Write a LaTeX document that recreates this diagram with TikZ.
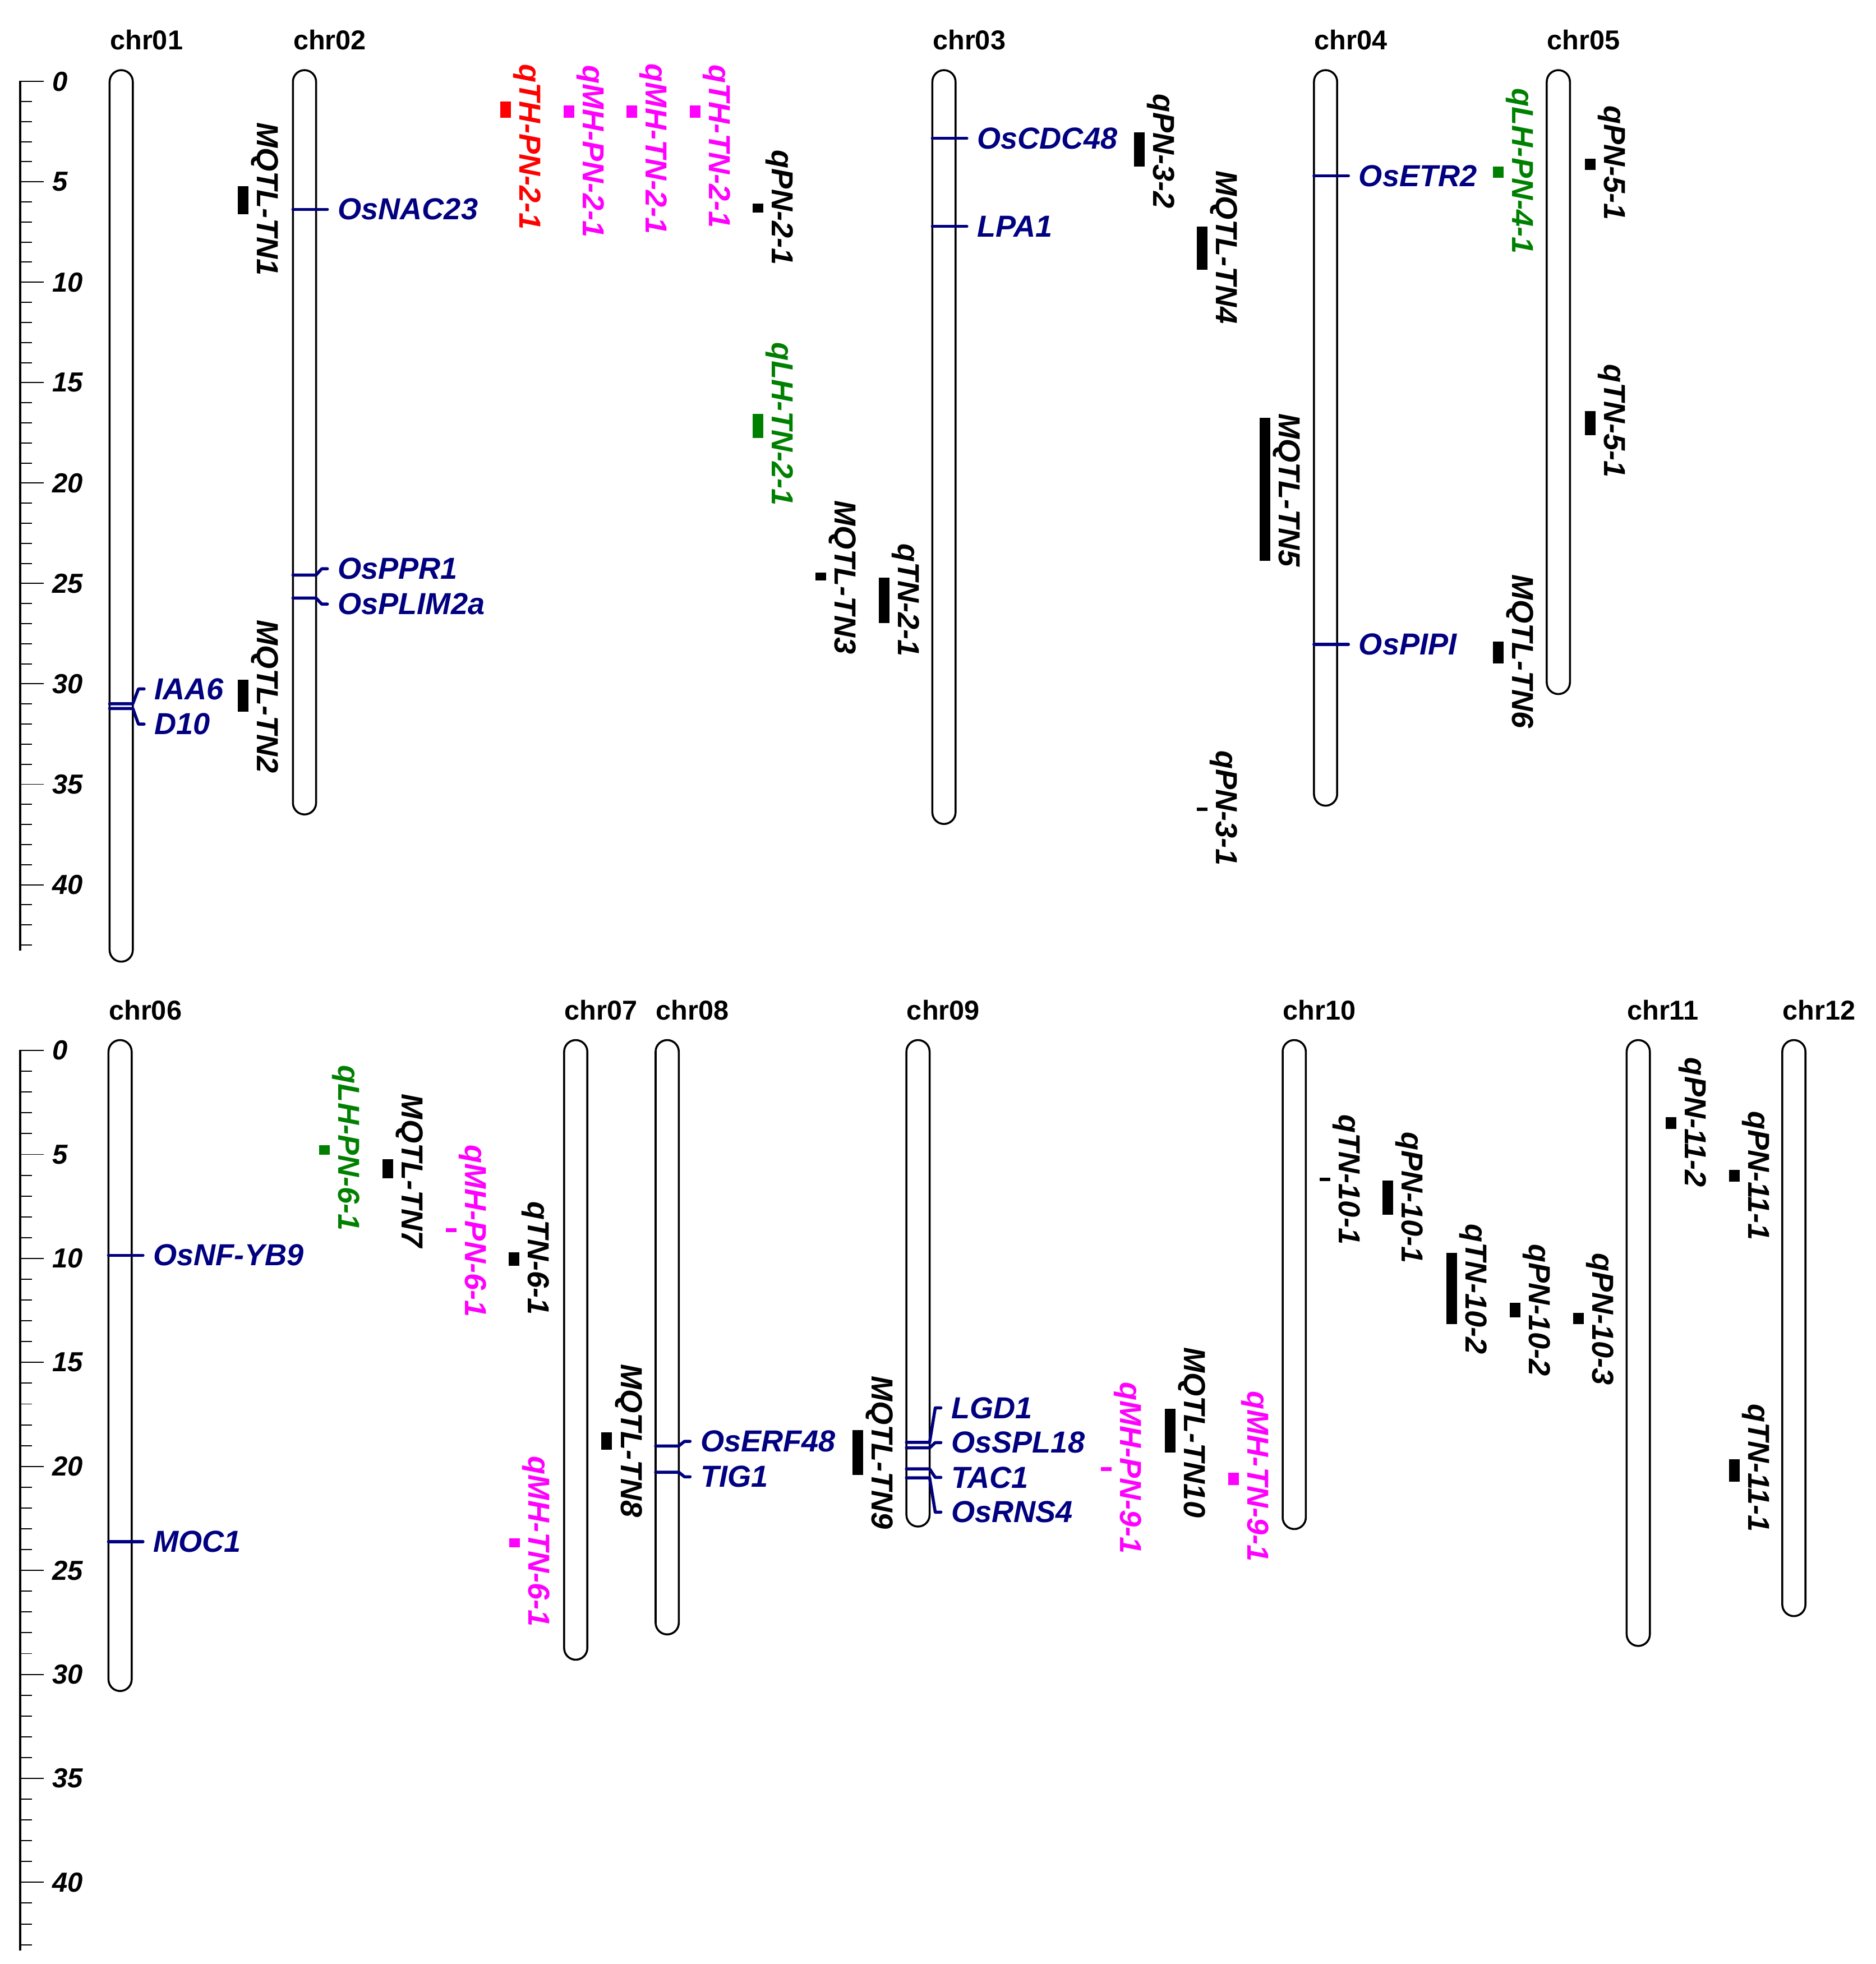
\documentclass[tikz,border=0pt]{standalone}
\usepackage{fontspec}
\setmainfont{Liberation Sans}

\definecolor{genenavy}{HTML}{000080}
\definecolor{qtlgreen}{HTML}{008000}
\definecolor{qtlred}{HTML}{FF0000}
\definecolor{qtlpink}{HTML}{FF00FF}

\tikzset{
	chrbody/.style={line width=0.9pt, rounded corners=0.185cm},
	chrlabel/.style={inner sep=0pt, font=\fontsize{12.4}{14}\selectfont\bfseries},
	locusline/.style={genenavy, line width=1.4pt, line cap=round, line join=round},
	locuslabel/.style={inner sep=0pt, anchor=west, text=genenavy, font=\fontsize{13.8}{16}\selectfont\bfseries\itshape},
	qtllabel/.style={inner sep=0pt, anchor=base, rotate=-90, font=\fontsize{13.8}{16}\selectfont\bfseries\itshape},
	rulerline/.style={line width=0.9pt},
	rulertick/.style={line width=0.5pt},
	rulerlabel/.style={inner sep=0pt, anchor=west, font=\fontsize{12.5}{14}\selectfont\bfseries\itshape}
}

% chromosome: name, left x, top y, bottom y
\newcommand{\chrom}[4]{\draw[chrbody] (#2,#3) rectangle (#2+18.5,#4);
	\node[chrlabel, anchor=base west] (#1) at (#2,#3-16.3) {#1};}
% gene: chromosome left x, locus y, label y, name
\newcommand{\locus}[4]{\node[locuslabel] (#4) at (#1+35.5,#3) {#4};
	\draw[locusline] (#1,#2) -- (#1+18.5,#2) -- ([xshift=-0.25cm]#4.west) -- ([xshift=-0.16cm]#4.west);}
% qtl: [colour] name, bar x, top y, bottom y, label y
\newcommand{\qtl}[6][black]{\fill[#1] (#3,#4) rectangle (#3+8.5,#5);
	\node[qtllabel, text=#1] (#2) at (#3+15.5,#6) {#2};}

\begin{document}
\begin{tikzpicture}[x=0.02cm, y=-0.02cm]
		%%%%% START %%%%%
		\useasboundingbox (0,0) rectangle (1497,1567.7);
		
		% scale bars
		\draw[rulerline] (16,64.5) -- (16,758.6);
		\foreach \i in {0,...,43}
			\draw[rulertick] (16,65+\i*16.03) -- (25.7,65+\i*16.03);
		\foreach \i in {0,5,...,40}{
			\draw[rulertick] (16,65+\i*16.03) -- (35,65+\i*16.03);
			\node[rulerlabel] (top\i) at (41.5,65+\i*16.03) {\i};}
		
		\draw[rulerline] (16,838) -- (16,1556.8);
		\foreach \i in {0,...,43}
			\draw[rulertick] (16,838.5+\i*16.6) -- (25.7,838.5+\i*16.6);
		\foreach \i in {0,5,...,40}{
			\draw[rulertick] (16,838.5+\i*16.6) -- (35,838.5+\i*16.6);
			\node[rulerlabel] (bot\i) at (41.5,838.5+\i*16.6) {\i};}
		
		% chromosomes
		\chrom{chr01}{87.5}{56}{767.6}
		\chrom{chr02}{233.8}{56}{650.1}
		\chrom{chr03}{744.2}{56}{657.7}
		\chrom{chr04}{1048.8}{56}{643.1}
		\chrom{chr05}{1234.6}{56}{554}
		
		\chrom{chr06}{86.6}{830.2}{1349.8}
		\chrom{chr07}{450.3}{830.2}{1324.8}
		\chrom{chr08}{523.3}{830.2}{1304.6}
		\chrom{chr09}{723.5}{830.2}{1218.5}
		\chrom{chr10}{1023.8}{830.2}{1220.5}
		\chrom{chr11}{1298.4}{830.2}{1313.8}
		\chrom{chr12}{1422.6}{830.2}{1290}
		
		% genes
		\locus{87.5}{561.8}{549.9}{IAA6}
		\locus{87.5}{565.5}{578}{D10}
		\locus{233.8}{167.1}{167.1}{OsNAC23}
		\locus{233.8}{459}{454}{OsPPR1}
		\locus{233.8}{477.4}{482.2}{OsPLIM2a}
		\locus{744.2}{110.4}{110.4}{OsCDC48}
		\locus{744.2}{180.7}{180.7}{LPA1}
		\locus{1048.8}{140.3}{140.3}{OsETR2}
		\locus{1048.8}{514.4}{514.4}{OsPIPI}
		
		\locus{86.6}{1002}{1002}{OsNF-YB9}
		\locus{86.6}{1230.6}{1230.6}{MOC1}
		\locus{523.3}{1154.2}{1150.5}{OsERF48}
		\locus{523.3}{1175.1}{1178.8}{TIG1}
		\locus{723.5}{1151.3}{1123.8}{LGD1}
		\locus{723.5}{1155.7}{1151.5}{OsSPL18}
		\locus{723.5}{1172.5}{1179.3}{TAC1}
		\locus{723.5}{1179.6}{1207}{OsRNS4}
		
		% qtls, top row
		\qtl{MQTL-TN1}{189.7}{148.8}{171.2}{159}
		\qtl{MQTL-TN2}{189.7}{542.7}{568}{556}
		\qtl[qtlred]{qTH-PN-2-1}{399.3}{81}{94}{117.4}
		\qtl[qtlpink]{qMH-PN-2-1}{449.7}{84.3}{94}{120.8}
		\qtl[qtlpink]{qMH-TN-2-1}{499.9}{84.3}{94}{119}
		\qtl[qtlpink]{qTH-TN-2-1}{550.4}{84.3}{94}{116.9}
		\qtl{qPN-2-1}{600.6}{162.5}{169.7}{165.7}
		\qtl[qtlgreen]{qLH-TN-2-1}{600.6}{330.2}{349.5}{338.5}
		\qtl{MQTL-TN3}{651}{457}{463.2}{460.8}
		\qtl{qTN-2-1}{701.3}{461}{497.5}{479}
		\qtl{qPN-3-2}{905.1}{105.6}{133}{120.6}
		\qtl{MQTL-TN4}{955.4}{180.7}{215.4}{197.4}
		\qtl{qPN-3-1}{955.4}{644.5}{647.5}{645}
		\qtl{MQTL-TN5}{1005.5}{333.5}{447.6}{391.2}
		\qtl[qtlgreen]{qLH-PN-4-1}{1191.5}{132.9}{142.1}{136.6}
		\qtl{MQTL-TN6}{1191.5}{511.9}{529.6}{520}
		\qtl{qPN-5-1}{1265.2}{126.6}{135.5}{130}
		\qtl{qTN-5-1}{1265.2}{328.1}{347.4}{336}
		
		% qtls, bottom row
		\qtl[qtlgreen]{qLH-PN-6-1}{254.6}{913.9}{921.9}{916.5}
		\qtl{MQTL-TN7}{305.3}{925.5}{940.5}{934.6}
		\qtl[qtlpink]{qMH-PN-6-1}{356}{980.5}{983.5}{982.6}
		\qtl{qTN-6-1}{406}{999.4}{1010.4}{1004.4}
		\qtl[qtlpink]{qMH-TN-6-1}{406.6}{1228}{1235}{1230.5}
		\qtl{MQTL-TN8}{480.1}{1143.2}{1157}{1150}
		\qtl{MQTL-TN9}{680.5}{1141.6}{1177.4}{1159.5}
		\qtl[qtlpink]{qMH-PN-9-1}{878.8}{1171}{1174}{1171.8}
		\qtl{MQTL-TN10}{929.8}{1124.5}{1159.6}{1143.4}
		\qtl[qtlpink]{qMH-TN-9-1}{980.3}{1175.6}{1185.4}{1178.5}
		\qtl{qTN-10-1}{1053.3}{939.9}{942.9}{941.6}
		\qtl{qPN-10-1}{1103.6}{942.4}{969.5}{956}
		\qtl{qTN-10-2}{1154.4}{1000}{1056.8}{1029}
		\qtl{qPN-10-2}{1205.2}{1040}{1051.5}{1045.7}
		\qtl{qPN-10-3}{1255.6}{1048}{1056.8}{1053}
		\qtl{qPN-11-2}{1329.4}{891.7}{901.1}{895.9}
		\qtl{qPN-11-1}{1380}{933.9}{943}{938.5}
		\qtl{qTN-11-1}{1380}{1165}{1182.7}{1171.7}
		
		%%%%% END %%%%%
\end{tikzpicture}
\end{document}
